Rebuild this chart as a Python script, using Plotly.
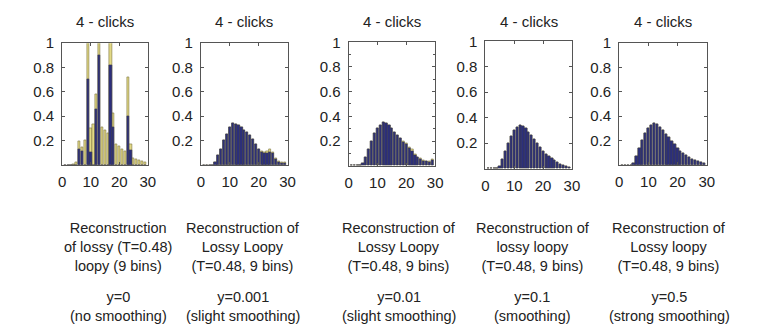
import plotly.graph_objects as go

# the page body keeps its default 8px margin, so the figure is shifted by that much
PAGE_W, PAGE_H = 763, 329
OFF = 8
W, H = PAGE_W - OFF, PAGE_H - OFF

# bin centres shared by every histogram
bins = list(range(1, 30))

# y=0 (no smoothing) - yellow bars go off the top at 9, 13, 17
p1_yellow = [0, 0, 0, 0.005, 0.02, 0.19, 0.14, 0.20, 1.25, 0.30, 0.33, 0.58, 1.25, 0.31,
             0.285, 0.26, 1.25, 0.42, 0.165, 0.15, 0.125, 0.11, 0.72, 0.17, 0.05, 0.043,
             0.035, 0.03, 0.022]
p1_blue = [0, 0, 0, 0, 0, 0.125, 0.11, 0, 0.70, 0.10, 0, 0.46, 0.90, 0,
           0, 0, 0.82, 0.31, 0, 0, 0, 0, 0.40, 0.12, 0, 0,
           0, 0, 0]

# y=0.001
p2_yellow = [0, 0, 0, 0, 0.02, 0.075, 0.13, 0.20, 0.255, 0.305, 0.338, 0.336, 0.323, 0.305,
             0.285, 0.268, 0.245, 0.208, 0.165, 0.13, 0.112, 0.104, 0.115, 0.125, 0.104, 0.05,
             0.032, 0.022, 0.02]
p2_blue = [0, 0, 0, 0, 0.02, 0.075, 0.13, 0.20, 0.255, 0.305, 0.338, 0.336, 0.323, 0.305,
           0.285, 0.268, 0.245, 0.208, 0.165, 0.125, 0.10, 0.093, 0.095, 0.105, 0.093, 0.045,
           0.022, 0.012, 0.01]

# y=0.01
p3_yellow = [0, 0, 0, 0, 0.02, 0.07, 0.135, 0.20, 0.26, 0.30, 0.33, 0.35, 0.345, 0.325,
             0.30, 0.268, 0.246, 0.225, 0.195, 0.178, 0.153, 0.13, 0.09, 0.072, 0.058, 0.048,
             0.036, 0.033, 0.05]
p3_blue = [0, 0, 0, 0, 0.02, 0.07, 0.135, 0.20, 0.26, 0.30, 0.33, 0.35, 0.345, 0.325,
           0.30, 0.268, 0.246, 0.225, 0.19, 0.17, 0.145, 0.12, 0.085, 0.065, 0.05, 0.04,
           0.032, 0.03, 0.042]

# y=0.1
p4_yellow = [0, 0, 0, 0, 0.017, 0.07, 0.134, 0.20, 0.256, 0.30, 0.325, 0.338, 0.333, 0.313,
             0.287, 0.26, 0.23, 0.197, 0.167, 0.138, 0.113, 0.093, 0.078, 0.062, 0.05, 0.037,
             0.027, 0.02, 0.014]
p4_blue = [0, 0, 0, 0, 0.017, 0.07, 0.134, 0.20, 0.256, 0.30, 0.325, 0.338, 0.333, 0.313,
           0.287, 0.26, 0.23, 0.197, 0.167, 0.138, 0.113, 0.093, 0.078, 0.062, 0.05, 0.037,
           0.027, 0.02, 0.014]

# y=0.5
p5_yellow = [0, 0, 0, 0, 0.01, 0.072, 0.136, 0.20, 0.256, 0.30, 0.325, 0.339, 0.333, 0.312,
             0.283, 0.253, 0.224, 0.195, 0.165, 0.139, 0.115, 0.093, 0.075, 0.059, 0.045, 0.035,
             0.027, 0.019, 0.013]
p5_blue = [0, 0, 0, 0, 0.01, 0.072, 0.136, 0.20, 0.256, 0.30, 0.325, 0.339, 0.333, 0.312,
           0.283, 0.253, 0.224, 0.195, 0.165, 0.139, 0.115, 0.093, 0.075, 0.059, 0.045, 0.035,
           0.027, 0.019, 0.013]

titles = ['4 - clicks'] * 5
captions = [
    'Reconstruction<br>of lossy (T=0.48)<br>loopy (9 bins)',
    'Reconstruction of<br>Lossy Loopy<br>(T=0.48, 9 bins)',
    'Reconstruction of<br>Lossy Loopy<br>(T=0.48, 9 bins)',
    'Reconstruction of<br>lossy loopy<br>(T=0.48, 9 bins)',
    'Reconstruction of<br>Lossy loopy<br>(T=0.48, 9 bins)',
]
smoothing = [
    'y=0<br>(no smoothing)',
    'y=0.001<br>(slight smoothing)',
    'y=0.01<br>(slight smoothing)',
    'y=0.1<br>(smoothing)',
    'y=0.5<br>(strong smoothing)',
]

xticks = [0, 10, 20, 30]
yticks = [0.2, 0.4, 0.6, 0.8, 1]
yticklabels = ['0.2', '0.4', '0.6', '0.8', '1']

yellow_series = [p1_yellow, p2_yellow, p3_yellow, p4_yellow, p5_yellow]
blue_series = [p1_blue, p2_blue, p3_blue, p4_blue, p5_blue]

# axes boxes in page pixels: left, right, top, bottom
boxes = [(59, 146, 35, 160), (200, 288, 35, 160), (350, 438, 34, 161),
         (489, 577, 33, 164), (625, 714, 35, 160)]
caption_x = [116, 243, 401, 537, 676]

FONT = 'Liberation Sans, Arial, sans-serif'
YELLOW = '#e2d985'
YELLOW_EDGE = '#7c7540'
BLUE = '#2c2f7c'
BLUE_EDGE = '#3b3b50'
AXIS = '#555555'


def px_x(v):
    return (v - OFF) / W


def px_y(v):
    return 1 - (v - OFF) / H


fig = go.Figure()
annotations = []

for i, (left, right, top, bottom) in enumerate(boxes):
    n = '' if i == 0 else str(i + 1)
    fig.add_trace(go.Bar(
        x=bins, y=yellow_series[i], width=0.78,
        marker=dict(color=YELLOW, line=dict(color=YELLOW_EDGE, width=0.6)),
        xaxis='x' + n, yaxis='y' + n, showlegend=False
    ))
    fig.add_trace(go.Bar(
        x=bins, y=blue_series[i], width=0.78,
        marker=dict(color=BLUE, line=dict(color=BLUE_EDGE, width=0.6)),
        xaxis='x' + n, yaxis='y' + n, showlegend=False
    ))

    xa = dict(
        domain=[px_x(left), px_x(right)], anchor='y' + n, range=[0, 30],
        tickvals=xticks, ticks='inside', ticklen=3, tickcolor=AXIS,
        showline=True, linecolor=AXIS, linewidth=1, mirror='allticks',
        showgrid=False, zeroline=False, ticklabelstandoff=3,
        tickfont=dict(family=FONT, size=15, color='#222')
    )
    ya = dict(
        domain=[px_y(bottom), px_y(top)], anchor='x' + n, range=[0, 1],
        tickvals=yticks, ticktext=yticklabels, ticks='inside', ticklen=3,
        tickcolor=AXIS, showline=True, linecolor=AXIS, linewidth=1,
        mirror='allticks', showgrid=False, zeroline=False, ticklabelstandoff=4,
        tickfont=dict(family=FONT, size=15, color='#222')
    )
    if i == 2:
        ya['minor'] = dict(tickvals=[0.1, 0.3, 0.5, 0.7, 0.9], ticks='inside',
                           ticklen=2, tickcolor=AXIS)
    fig.update_layout({'xaxis' + n: xa, 'yaxis' + n: ya})

    annotations.append(dict(
        x=px_x((left + right) / 2), y=px_y(13), xref='paper', yref='paper',
        text=titles[i], showarrow=False, xanchor='center', yanchor='middle',
        font=dict(family=FONT, size=15, color='#222')
    ))
    annotations.append(dict(
        x=px_x(caption_x[i]), y=px_y(245), xref='paper', yref='paper',
        text=captions[i], showarrow=False, xanchor='center', yanchor='middle',
        align='center', font=dict(family=FONT, size=14.5, color='#222')
    ))
    annotations.append(dict(
        x=px_x(caption_x[i]), y=px_y(306), xref='paper', yref='paper',
        text=smoothing[i], showarrow=False, xanchor='center', yanchor='middle',
        align='center', font=dict(family=FONT, size=14.5, color='#222')
    ))

fig.update_layout(
    width=W, height=H, margin=dict(l=0, r=0, t=0, b=0),
    paper_bgcolor='white', plot_bgcolor='white',
    barmode='overlay', bargap=0, annotations=annotations
)

fig.write_html("out.html")
